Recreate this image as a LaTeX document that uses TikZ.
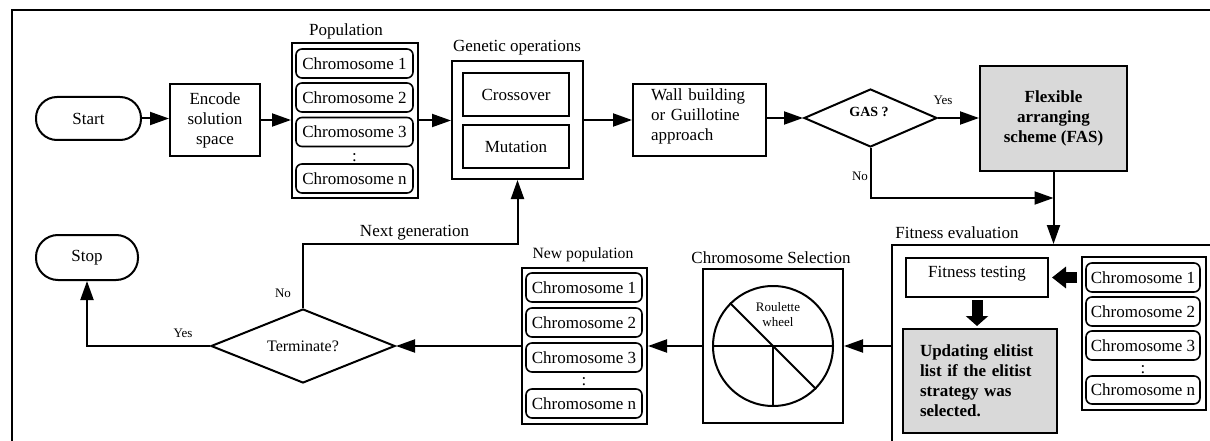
\documentclass[tikz,border=0pt]{standalone}
\usepackage{fontspec}
\setmainfont{Liberation Serif}
\usetikzlibrary{arrows.meta,shapes.geometric,calc}
\definecolor{fasgray}{RGB}{217,217,217}
\newcommand\myfs{\fontsize{17}{20}\selectfont}
\newcommand\mysmall{\fontsize{13}{15}\selectfont}
\tikzset{
  lw/.style={line width=2pt},
  box/.style={draw, lw, inner sep=0pt, align=center, font=\myfs},
  term/.style={box, rounded corners=21pt},
  chrom/.style={draw, line width=1.6pt, rounded corners=6pt, inner sep=0pt, minimum height=29pt, font=\myfs},
  txt/.style={inner sep=0pt, font=\myfs},
  small/.style={inner sep=0pt, font=\mysmall, align=center},
  arr/.style={lw, -{Triangle[length=19pt,width=13pt]}},
  blk/.style={line width=11pt},
  dec/.style={draw, diamond, lw, inner sep=0pt},
}
\begin{document}
\begin{tikzpicture}[x=1pt,y=-1pt]
\useasboundingbox (0,0) rectangle (1210,441);
\clip (0,0) rectangle (1210,441);
% outer frame
\draw[lw] (11.5,470) -- (11.5,10.5) -- (1240,10.5);

% ---------- top row ----------
\node[term, minimum width=105pt, minimum height=43pt] (start) at (88.5,118.5) {Start};
\node[box, minimum width=90pt, minimum height=72pt] (encode) at (215,120) {Encode\\solution\\space};

\node[box, minimum width=126pt, minimum height=155pt] (pop) at (355,120.5) {};
\node[txt] (poplbl) at (346,31) {Population};
\node[chrom, minimum width=117pt] (p1) at (354.5,63.5) {Chromosome 1};
\node[chrom, minimum width=117pt] (p2) at (354.5,97.5) {Chromosome 2};
\node[chrom, minimum width=117pt] (p3) at (354.5,132) {Chromosome 3};
\node[txt, anchor=base] (pd) at (354.5,161) {:};
\node[chrom, minimum width=117pt] (pn) at (354.5,178.5) {Chromosome n};

\node[box, minimum width=131pt, minimum height=118pt] (genop) at (517.5,120) {};
\node[txt] (genlbl) at (517,48) {Genetic operations};
\node[box, minimum width=106pt, minimum height=43pt] (cross) at (516,94.5) {Crossover};
\node[box, minimum width=106pt, minimum height=43pt] (mut) at (516,146.5) {Mutation};

\node[box, minimum width=133pt, minimum height=72pt] (wall) at (699.5,120) {};
\node[txt, text width=97pt, align=left] (walltxt) at (699.5,116) {Wall building\\or Guillotine\\approach};

\node[dec, minimum width=133pt, minimum height=58pt] (gas) at (870.5,118) {};
\node[inner sep=0pt, font=\fontsize{14}{16}\selectfont\bfseries] (gastxt) at (869,112) {GAS ?};
\node[small] (yes1) at (943,100) {Yes};
\node[small] (no1) at (860,176) {No};

\node[box, fill=fasgray, minimum width=147pt, minimum height=105pt, font=\myfs\bfseries] (fas) at (1053.5,118.5) {Flexible\\arranging\\scheme (FAS)};
\coordinate (nojoin) at (1053.5,198);

% ---------- fitness evaluation ----------
\node[box, minimum width=348pt, minimum height=215pt] (feval) at (1066,352.5) {};
\node[txt] (fevlbl) at (957,233) {Fitness evaluation};
\node[box, minimum width=142pt, minimum height=39pt, text height=19.5pt, text depth=19.5pt] (ftest) at (977,277.5) {Fitness testing};
\node[box, fill=fasgray, minimum width=154pt, minimum height=104pt, text width=120pt, align=left, font=\myfs\bfseries] (upd) at (980,381) {Updating elitist\\list if the elitist\\strategy was\\selected.};

\node[box, minimum width=124pt, minimum height=153pt] (flist) at (1144,333.5) {};
\node[chrom, minimum width=114pt] (f1) at (1143,277.5) {Chromosome 1};
\node[chrom, minimum width=114pt] (f2) at (1143,311.5) {Chromosome 2};
\node[chrom, minimum width=114pt] (f3) at (1143,345.5) {Chromosome 3};
\node[txt, anchor=base] (fd) at (1143,373) {:};
\node[chrom, minimum width=114pt, minimum height=28pt] (fn) at (1143,390) {Chromosome n};

% ---------- bottom row ----------
\node[term, minimum width=102pt, minimum height=45pt, rounded corners=22pt] (stop) at (87,257.5) {Stop};
\node[dec, minimum width=184pt, minimum height=74pt] (term) at (303,346) {};
\node[inner sep=0pt, font=\fontsize{16}{18}\selectfont] (termtxt) at (303,346) {Terminate?};
\node[small] (yes2) at (183,333) {Yes};
\node[small] (no2) at (283,293) {No};
\node[txt] (nglbl) at (414.5,233) {Next generation};

\node[box, minimum width=125pt, minimum height=156pt] (newpop) at (584.5,346) {};
\node[inner sep=0pt, font=\fontsize{15.7}{18}\selectfont] (nplbl) at (583,255) {New population};
\node[chrom, minimum width=116pt] (n1) at (584,287.5) {Chromosome 1};
\node[chrom, minimum width=116pt] (n2) at (584,322.5) {Chromosome 2};
\node[chrom, minimum width=116pt] (n3) at (584,357.5) {Chromosome 3};
\node[txt, anchor=base] (nd) at (584,385) {:};
\node[chrom, minimum width=116pt] (nn) at (584,403.5) {Chromosome n};

\node[box, minimum width=140pt, minimum height=154pt] (select) at (773,346) {};
\node[txt] (sellbl) at (771,258) {Chromosome Selection};
\node[draw, circle, lw, minimum size=120pt, inner sep=0pt] (wheel) at (773,346) {};
\draw[lw] (wheel.west) -- (wheel.east);
\draw[lw] (wheel.center) -- (wheel.south);
\draw[lw] (wheel.135) -- (wheel.-45);
\node[small] (rw) at (778,315) {Roulette\\wheel};

% ---------- connectors ----------
\draw[arr] (start.east) -- (start.east -| encode.west);
\draw[arr] (encode.east) -- (encode.east -| pop.west);
\draw[arr] (pop.east) -- (pop.east -| genop.west);
\draw[arr] (genop.east) -- (genop.east -| wall.west);
\draw[arr] (wall.east |- gas.west) -- (gas.west);
\draw[arr] (gas.east) -- (gas.east -| fas.west);
\draw[arr] (gas.south) |- (nojoin);
\draw[arr] (fas.south) -- (fas.south |- feval.north);
\draw[arr] (select.east -| feval.west) -- (select.east);
\draw[arr] (select.west) -- (select.west -| newpop.east);
\draw[arr] (newpop.west) -- (term.east);
\draw[arr] (term.west) -| (stop.south);
\draw[arr] (term.north) -- (term.north |- 0,244) -| (genop.south);
\draw[blk, -{Triangle[length=14pt,width=21pt]}, shorten <=4pt, shorten >=3pt] (ftest.east -| flist.west) -- (ftest.east);
\draw[blk, -{Triangle[length=10pt,width=22pt]}, shorten <=2pt, shorten >=2pt] (ftest.south) -- (ftest.south |- upd.north);
\end{tikzpicture}
\end{document}
